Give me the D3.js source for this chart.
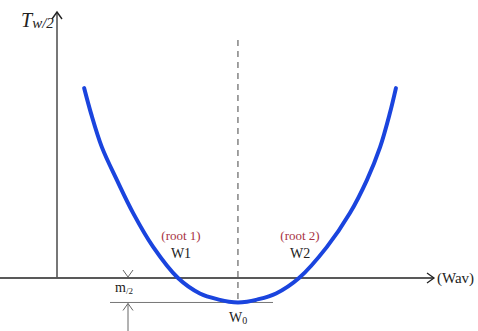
<!DOCTYPE html>
<html>
<head>
<meta charset="utf-8">
<script src="https://cdn.jsdelivr.net/npm/d3@7"></script>
<style>
  html, body { margin: 0; padding: 0; background: #fff; }
  svg { display: block; }
  text { font-family: "Liberation Serif", "DejaVu Serif", serif; }
</style>
</head>
<body>
<svg id="chart" width="478" height="331"></svg>
<script>
// Curve of T_{w/2} against average width (Wav)
const wav = [0.72, 0.90, 1.19, 1.59, 2.02, 2.55, 3.21, 3.79, 4.32, 4.56, 4.80, 5.04, 5.28, 5.81, 6.42, 7.16, 7.77, 8.22, 8.57, 8.83, 8.99];
const tw2 = [7.14, 6.20, 4.92, 3.68, 2.44, 1.17, 0.00, -0.58, -0.82, -0.89, -0.92, -0.89, -0.82, -0.58, 0.00, 1.17, 2.44, 3.68, 4.92, 6.20, 7.14];

// Marked points on the curve
const rootNames = ["(root 1)", "(root 2)"];
const rootLabels = ["W1", "W2"];
const rootValues = [3.21, 6.42];
const minWav = 4.80;
const minHalf = -0.92;

// Axis labels
const xAxisLabel = "(Wav)";
const yAxisMain = "T";
const yAxisSub = "w/2";

const svg = d3.select("#chart");
const x = d3.scaleLinear().domain([0, 10]).range([57, 434]);
const y = d3.scaleLinear().domain([0, 10]).range([278, 12]);

const ink = "#222";

// Horizontal axis with arrow
svg.append("line")
  .attr("x1", 0).attr("x2", x(10))
  .attr("y1", y(0)).attr("y2", y(0))
  .attr("stroke", ink).attr("stroke-width", 1.3);
svg.append("path")
  .attr("d", `M${x(10) - 7},${y(0) - 5} L${x(10)},${y(0)} L${x(10) - 7},${y(0) + 5}`)
  .attr("fill", "none").attr("stroke", ink).attr("stroke-width", 1.3);
svg.append("text")
  .attr("x", x(10) + 3).attr("y", y(0) + 5)
  .attr("font-size", 15).attr("fill", ink)
  .text(xAxisLabel);

// Vertical axis with arrow
svg.append("line")
  .attr("x1", x(0)).attr("x2", x(0))
  .attr("y1", y(0)).attr("y2", y(10))
  .attr("stroke", "#555").attr("stroke-width", 1.6);
svg.append("path")
  .attr("d", `M${x(0) - 5},${y(10) + 7} L${x(0)},${y(10)} L${x(0) + 5},${y(10) + 7}`)
  .attr("fill", "none").attr("stroke", ink).attr("stroke-width", 1.4);
const yl = svg.append("text")
  .attr("x", 21).attr("y", 27)
  .attr("font-style", "italic").attr("fill", ink);
yl.append("tspan").attr("font-size", 20).text(yAxisMain);
yl.append("tspan").attr("font-size", 15).attr("dy", 1).text(yAxisSub);

// Dashed centre line at the minimum
svg.append("line")
  .attr("x1", x(minWav)).attr("x2", x(minWav))
  .attr("y1", 40).attr("y2", y(minHalf))
  .attr("stroke", "#444").attr("stroke-width", 1)
  .attr("stroke-dasharray", "6,5");

// Level line at the minimum
svg.append("line")
  .attr("x1", 110).attr("x2", 273)
  .attr("y1", y(minHalf)).attr("y2", y(minHalf))
  .attr("stroke", "#777").attr("stroke-width", 1);

// m/2 dimension arrows
const mx = 128;
svg.append("path")
  .attr("d", `M${mx - 5},${y(0) - 8} L${mx},${y(0) - 1} L${mx + 5},${y(0) - 8}`)
  .attr("fill", "none").attr("stroke", "#666").attr("stroke-width", 1);
svg.append("path")
  .attr("d", `M${mx - 5},${y(minHalf) + 8} L${mx},${y(minHalf) + 1} L${mx + 5},${y(minHalf) + 8} M${mx},${y(minHalf) + 1} L${mx},331`)
  .attr("fill", "none").attr("stroke", "#666").attr("stroke-width", 1);
const ml = svg.append("text")
  .attr("x", 115).attr("y", 292).attr("fill", ink);
ml.append("tspan").attr("font-size", 14).text("m");
ml.append("tspan").attr("font-size", 9).attr("dy", 2).text("/2");

// The curve
const pts = wav.map((w, i) => [w, tw2[i]]);
svg.append("path")
  .datum(pts)
  .attr("d", d3.line().x(d => x(d[0])).y(d => y(d[1])).curve(d3.curveCatmullRom.alpha(0.5)))
  .attr("fill", "none")
  .attr("stroke", "#1a44de")
  .attr("stroke-width", 4)
  .attr("stroke-linecap", "round");

// Root annotations
rootValues.forEach((r, i) => {
  const cx = x(r) + (i === 0 ? 3 : 1);
  svg.append("text")
    .attr("x", cx).attr("y", 240)
    .attr("text-anchor", "middle")
    .attr("font-size", 13).attr("fill", "#a8323f")
    .text(rootNames[i]);
  svg.append("text")
    .attr("x", cx).attr("y", 258)
    .attr("text-anchor", "middle")
    .attr("font-size", 14).attr("fill", ink)
    .text(rootLabels[i]);
});

// W0 label under the minimum
const w0 = svg.append("text")
  .attr("x", x(minWav) - 9).attr("y", 322).attr("fill", ink);
w0.append("tspan").attr("font-size", 14).text("W");
w0.append("tspan").attr("font-size", 10).attr("dy", 2).text("0");
</script>
</body>
</html>
